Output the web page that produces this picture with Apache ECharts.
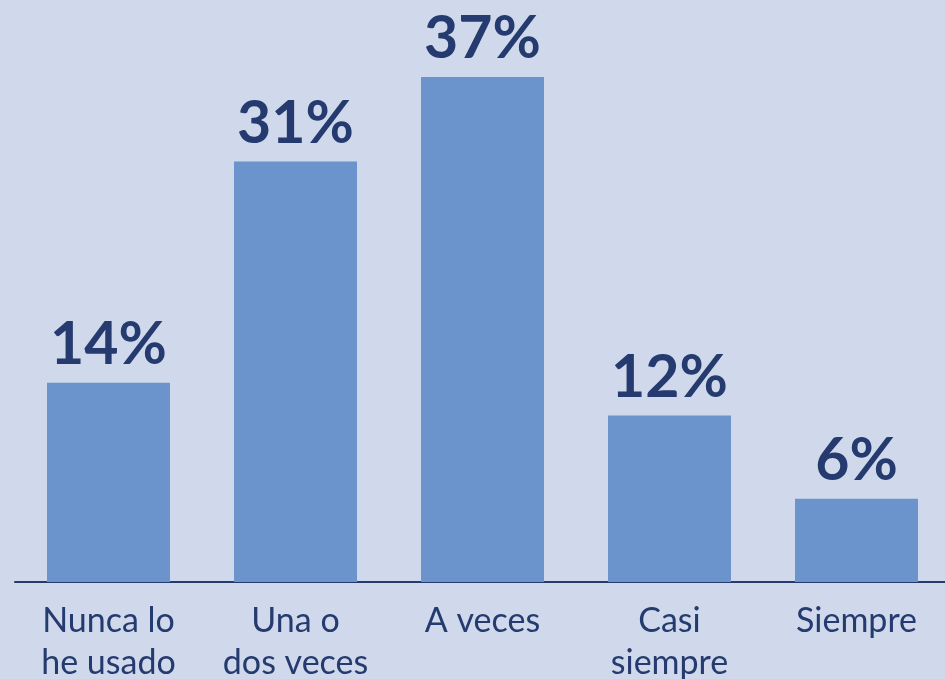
<!DOCTYPE html>
<html><head><meta charset="utf-8">
<script src="https://cdn.jsdelivr.net/npm/echarts@6/dist/echarts.min.js"></script>
<style>html,body{margin:0;padding:0;background:#cfd9eb;overflow:hidden;}#c{width:955px;height:679px;}</style>
</head><body><div id="c"></div>
<script>
const categories = ['Nunca lo\nhe usado', 'Una o\ndos veces', 'A veces', 'Casi\nsiempre', 'Siempre'];
const values = [14.6, 30.8, 37, 12.2, 6.1];
const valueLabels = ['14%', '31%', '37%', '12%', '6%'];

const chart = echarts.init(document.getElementById('c'));
chart.setOption({
  backgroundColor: '#cfd9eb',
  animation: false,
  grid: {left: 15, width: 935, top: 36, bottom: 97, containLabel: false, outerBoundsMode: 'none'},
  xAxis: {
    type: 'category', data: categories,
    axisLine: {lineStyle: {color: '#253a6e', width: 2}},
    axisTick: {show: false},
    axisLabel: {color: '#253a6e', fontFamily: 'Lato', fontSize: 34, lineHeight: 42, margin: 18, interval: 0, verticalAlign: 'top'}
  },
  yAxis: {type: 'value', min: 0, max: 40, show: false, splitLine: {show: false}},
  series: [{
    type: 'bar', data: values, barWidth: 123,
    itemStyle: {color: '#6a94cb'},
    label: {show: true, position: 'top', distance: 8, color: '#253a6e', fontFamily: 'Lato', fontWeight: 'bold', fontSize: 59,
      formatter: p => valueLabels[p.dataIndex]}
  }]
});
</script></body></html>
